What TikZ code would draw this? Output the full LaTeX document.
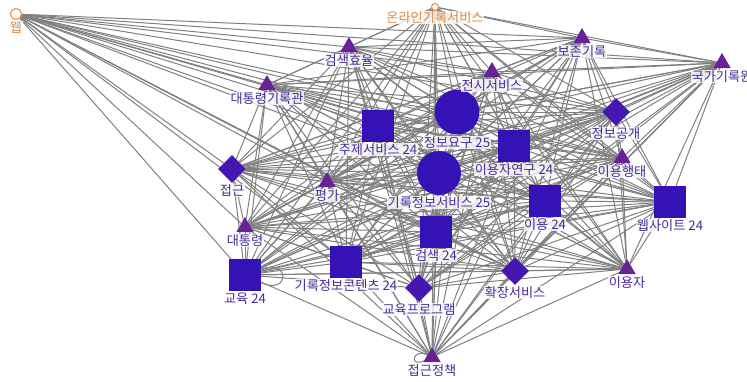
\documentclass[tikz,border=0pt]{standalone}
\usepackage{fontspec}
\setmainfont{Noto Sans CJK KR}
\usetikzlibrary{shapes.geometric,positioning,backgrounds}

\definecolor{kwblue}{RGB}{52,18,182}
\definecolor{kwpurple}{RGB}{104,34,150}
\definecolor{kwdiam}{RGB}{70,22,178}
\definecolor{kworange}{RGB}{226,138,62}
\definecolor{kwtext}{RGB}{72,42,152}
\definecolor{linkgray}{RGB}{128,128,128}

\begin{document}
\begin{tikzpicture}[x=1pt, y=-1pt,
    link/.style={draw=linkgray, line width=1pt},
    kwsq/.style={fill=kwblue, minimum size=32pt, inner sep=0pt},
    kwdot/.style={circle, fill=kwblue, inner sep=0pt},
    kwtri/.style={regular polygon, regular polygon sides=3, fill=kwpurple, minimum size=20pt, inner sep=0pt},
    kwdia/.style={diamond, fill=kwdiam, minimum size=28pt, inner sep=0pt},
    kwring/.style={circle, draw=kworange, line width=1pt, fill=white, inner sep=0pt},
    tag/.style={fill=white, fill opacity=0.8, text opacity=1, text=kwtext, inner sep=0.5pt, font=\fontsize{13.2}{14}\selectfont}]
      \useasboundingbox (0,0) rectangle (747,381);

      % Nodes
      \node[kwring, minimum size=11pt] (web) at (16,14) {};
      \node[kwring, minimum size=7pt] (online) at (435,7) {};
      \node[kwtri] (effic) at (349,47) {};
      \node[kwtri] (preserve) at (582,38) {};
      \node[kwtri] (nara) at (722,63) {};
      \node[kwtri] (presarch) at (267,85) {};
      \node[kwtri] (exhib) at (492,72) {};
      \node[kwsq] (subj) at (378,126) {};
      \node[kwdot, minimum size=45pt] (need) at (457,112) {};
      \node[kwsq] (usrstudy) at (514,146) {};
      \node[kwdia] (disclose) at (616,112) {};
      \node[kwtri] (behav) at (622,158) {};
      \node[kwdia] (access) at (232,169) {};
      \node[kwtri] (eval) at (327,182) {};
      \node[kwdot, minimum size=44pt] (recsvc) at (439,173) {};
      \node[kwsq] (use) at (545,201) {};
      \node[kwsq] (website) at (670,202) {};
      \node[kwtri] (pres) at (245,227) {};
      \node[kwsq] (search) at (436,232) {};
      \node[kwsq] (edu) at (245,275) {};
      \node[kwsq] (content) at (346,262) {};
      \node[kwdia] (eduprog) at (419,288) {};
      \node[kwdia] (extsvc) at (515,271) {};
      \node[kwtri] (user) at (627,269) {};
      \node[kwtri] (policy) at (432,357) {};

      % Edges
      \begin{pgfonlayer}{background}
        \def\corelist{online,effic,preserve,nara,presarch,exhib,subj,need,usrstudy,disclose,behav,access,eval,recsvc,use,website,pres,search,edu,content,eduprog,extsvc,user,policy}
        \foreach \a [count=\i] in \corelist {
          \foreach \b [count=\j] in \corelist {
            \ifnum\j>\i \draw[link] (\a) -- (\b); \fi
          }
        }
        \foreach \b in {effic,preserve,nara,presarch,exhib,subj,need,usrstudy,disclose,behav,access,eval,recsvc,use,website,pres,search,edu,content,extsvc}
          \draw[link] (web) -- (\b);
        \draw[link] (edu) to[out=20, in=-25, looseness=6, min distance=13pt] (edu);
        \draw[link] (policy) to[out=205, in=155, looseness=6, min distance=13pt] (policy);
      \end{pgfonlayer}

      % Labels
      \node[tag, text=kworange, below=1pt of web] (web-t) {웹};
      \node[tag, text=kworange, below=0pt of online] (online-t) {온라인기록서비스};
      \node[tag, below=2pt of effic] (effic-t) {검색효율};
      \node[tag, below=2pt of preserve] (preserve-t) {보존기록};
      \node[tag, below=2pt of nara] (nara-t) {국가기록원};
      \node[tag, below=2pt of presarch] (presarch-t) {대통령기록관};
      \node[tag, below=2pt of exhib] (exhib-t) {전시서비스};
      \node[tag, below=1pt of subj] (subj-t) {주제서비스 24};
      \node[tag, below=1pt of need] (need-t) {정보요구 25};
      \node[tag, below=1pt of usrstudy] (usrstudy-t) {이용자연구 24};
      \node[tag, below=1pt of disclose] (disclose-t) {정보공개};
      \node[tag, below=2pt of behav] (behav-t) {이용행태};
      \node[tag, below=1pt of access] (access-t) {접근};
      \node[tag, below=2pt of eval] (eval-t) {평가};
      \node[tag, below=1pt of recsvc] (recsvc-t) {기록정보서비스 25};
      \node[tag, below=1pt of use] (use-t) {이용 24};
      \node[tag, below=1pt of website] (website-t) {웹사이트 24};
      \node[tag, below=2pt of pres] (pres-t) {대통령};
      \node[tag, below=1pt of search] (search-t) {검색 24};
      \node[tag, below=1pt of edu] (edu-t) {교육 24};
      \node[tag, below=1pt of content] (content-t) {기록정보콘텐츠 24};
      \node[tag, below=1pt of eduprog] (eduprog-t) {교육프로그램};
      \node[tag, below=1pt of extsvc] (extsvc-t) {확장서비스};
      \node[tag, below=2pt of user] (user-t) {이용자};
      \node[tag, below=2pt of policy] (policy-t) {접근정책};
    \end{tikzpicture}
\end{document}
